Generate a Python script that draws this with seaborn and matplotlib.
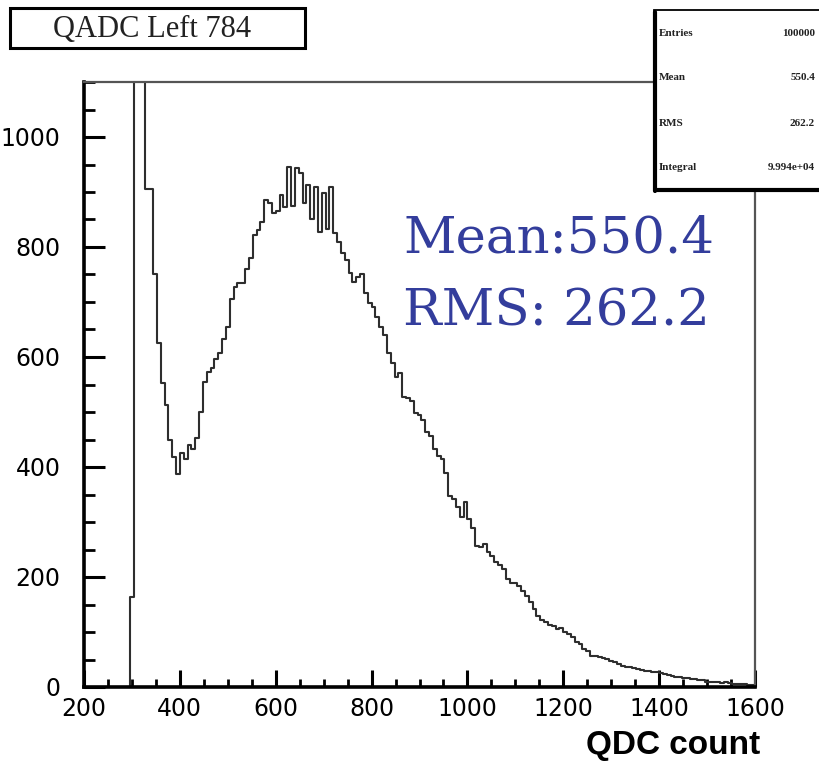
import numpy as np
import pandas as pd
import matplotlib
matplotlib.use("Agg")
import matplotlib.pyplot as plt
from matplotlib.patches import Rectangle
from matplotlib.lines import Line2D
from matplotlib.ticker import MultipleLocator
import seaborn as sns

# ---------------- data ----------------
bin_width = 8
first_edge = 288
counts = [
    0, 163, 2500, 2500, 2500, 905, 905, 750, 626, 553,          # 288 ..
    513, 450, 419, 387, 425, 415, 440, 432, 452, 500,           # 368 ..
    555, 572, 580, 597, 608, 632, 655, 705, 728, 735,           # 448 ..
    735, 760, 780, 822, 831, 845, 886, 880, 862, 866,           # 528 ..
    895, 872, 946, 875, 944, 935, 880, 913, 850, 909,           # 608 ..
    828, 898, 832, 909, 826, 809, 789, 777, 753, 737,           # 688 ..
    746, 750, 717, 699, 690, 673, 655, 640, 608, 590,           # 768 ..
    564, 571, 528, 525, 520, 499, 495, 486, 463, 456,           # 848 ..
    432, 420, 414, 390, 347, 341, 327, 310, 336, 305,           # 928 ..
    290, 256, 254, 260, 245, 238, 227, 222, 214, 196,           # 1008 ..
    190, 190, 183, 174, 165, 154, 142, 129, 122, 118,           # 1088 ..
    112, 111, 105, 108, 100, 96, 91, 82, 78, 69,                # 1168 ..
    66, 56, 57, 54, 52, 51, 47, 45, 42, 38,                     # 1248 ..
    36, 36, 34, 33, 31, 29, 29, 27, 27, 25,                     # 1328 ..
    24, 22, 20, 18, 19, 17, 16, 15, 14, 13,                     # 1408 ..
    12, 10, 9, 10, 9, 8, 9, 7, 6, 6,                            # 1488 ..
    5, 5, 4, 4,                                                 # 1568 ..
]
x_ticks = [200, 400, 600, 800, 1000, 1200, 1400, 1600]
y_ticks = [0, 200, 400, 600, 800, 1000]
title_text = "QADC Left 784"
stats_labels = ["Entries", "Mean", "RMS", "Integral"]
stats_values = ["100000", "550.4", "262.2", "9.994e+04"]
mean_text = "Mean:550.4"
rms_text = "RMS: 262.2"
x_label = "QDC count"

last_edge = first_edge + bin_width * len(counts)
centers = first_edge + bin_width * (np.arange(len(counts)) + 0.5)
df = pd.DataFrame({"qdc": centers, "n": counts})

# ---------------- figure ----------------
W, H = 819, 761
sns.set_style("white")
plt.rcParams["font.family"] = ["DejaVu Sans"]
fig = plt.figure(figsize=(W / 100, H / 100), dpi=100)

def fx(px):
    return px / W

def fy(py):
    return 1 - py / H

ax = fig.add_axes([fx(84), fy(687), fx(755) - fx(84), fy(82) - fy(687)])

sns.histplot(data=df, x="qdc", weights="n", binwidth=bin_width,
             binrange=(first_edge, last_edge), element="step",
             fill=False, color="#2e2e2e", linewidth=1.5, ax=ax)

ax.set_xlim(200, 1600)
ax.set_ylim(0, 1100)
ax.set_xticks(x_ticks)
ax.set_yticks(y_ticks)
ax.xaxis.set_minor_locator(MultipleLocator(50))
ax.yaxis.set_minor_locator(MultipleLocator(50))
ax.set_xlabel("")
ax.set_ylabel("")

ax.tick_params(which="both", bottom=True, left=True, top=False, right=False,
               direction="in", color="black")
ax.tick_params(axis="x", which="major", length=12, width=2.2,
               pad=7, labelsize=17, labelcolor="black")
ax.tick_params(axis="x", which="minor", length=6, width=2.0)
ax.tick_params(axis="y", which="major", length=15, width=2.2,
               pad=17, labelsize=17, labelcolor="black")
ax.tick_params(axis="y", which="minor", length=8, width=2.0)

for side in ["left", "bottom"]:
    ax.spines[side].set_linewidth(2.6)
    ax.spines[side].set_color("black")
for side in ["top", "right"]:
    ax.spines[side].set_linewidth(1.6)
    ax.spines[side].set_color("#555555")
ax.spines["top"].set_visible(True)
ax.spines["right"].set_visible(True)

# ---------------- title box ----------------
fig.add_artist(Rectangle((fx(10), fy(48)), fx(305) - fx(10), fy(8) - fy(48),
                         transform=fig.transFigure, facecolor="white",
                         edgecolor="black", linewidth=2.2, zorder=5))
fig.text(fx(152), fy(29), title_text, ha="center", va="center",
         family=["Liberation Serif"], fontsize=22, color="#222222", zorder=6)

# ---------------- stats box ----------------
fig.add_artist(Rectangle((fx(654), fy(190)), fx(835) - fx(654), fy(10) - fy(190),
                         transform=fig.transFigure, facecolor="white",
                         edgecolor="black", linewidth=1.3, zorder=5))
fig.add_artist(Line2D([fx(655), fx(655)], [fy(12), fy(191)],
                      transform=fig.transFigure, color="black", lw=3.0, zorder=6))
fig.add_artist(Line2D([fx(655), fx(819)], [fy(190), fy(190)],
                      transform=fig.transFigure, color="black", lw=3.0, zorder=6))
for i, (lab, val) in enumerate(zip(stats_labels, stats_values)):
    yy = fy(33 + 45 * i)
    fig.text(fx(659), yy, lab, ha="left", va="center", family=["Liberation Serif"],
             fontsize=8, fontweight="bold", color="#222222", zorder=7)
    fig.text(fx(815), yy, val, ha="right", va="center", family=["Liberation Serif"],
             fontsize=8, fontweight="bold", color="#222222", zorder=7)

# ---------------- annotations ----------------
blue = "#333d9c"
fig.text(fx(403), fy(252), mean_text, ha="left", va="baseline",
         family=["DejaVu Serif"], fontsize=37, color=blue)
fig.text(fx(403), fy(326), rms_text, ha="left", va="baseline",
         family=["DejaVu Serif"], fontsize=37, color=blue)
fig.text(fx(760), fy(754), x_label, ha="right", va="baseline",
         family=["Liberation Sans"], fontsize=24, fontweight="bold", color="black")

fig.savefig("out.png", dpi=100)
